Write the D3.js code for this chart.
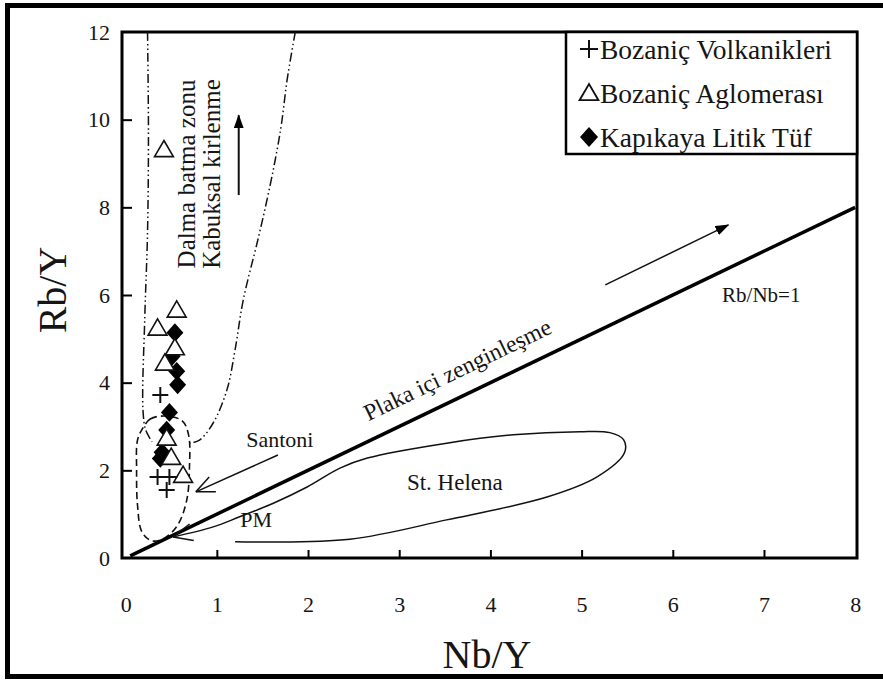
<!DOCTYPE html>
<html>
<head>
<meta charset="utf-8">
<script src="https://cdnjs.cloudflare.com/ajax/libs/d3/7.8.5/d3.min.js"></script>
<style>
  body { margin: 0; background: #fff; }
  svg text { font-family: "Liberation Serif", "Times New Roman", serif; fill: #151515; }
</style>
</head>
<body>
<svg id="chart" width="883" height="680"></svg>
<script>
// axis ticks
const xTicks = [0, 1, 2, 3, 4, 5, 6, 7, 8];
const yTicks = [0, 2, 4, 6, 8, 10, 12];

// samples [Nb/Y, Rb/Y]
const volkanikleri = [[0.38, 3.72], [0.35, 1.85], [0.48, 1.85], [0.45, 1.55]];
const aglomerasi = [[0.42, 9.32], [0.56, 5.66], [0.35, 5.25], [0.54, 4.80], [0.43, 4.45],
                    [0.45, 2.74], [0.50, 2.30], [0.63, 1.89]];
const litikTuf = [[0.54, 5.14], [0.51, 4.60], [0.56, 4.26], [0.57, 3.95], [0.48, 3.32],
                  [0.45, 2.92], [0.40, 2.41], [0.38, 2.27]];

const legendNames = ["Bozaniç Volkanikleri", "Bozaniç Aglomerası", "Kapıkaya Litik Tüf"];

// field outlines
const dalmaLeft = [[0.24, 12], [0.25, 9.7], [0.24, 7.42], [0.21, 5.5], [0.19, 3.38], [0.22, 2.92], [0.29, 2.65]];
const dalmaRight = [[1.86, 12], [1.77, 10.9], [1.71, 9.92], [1.64, 9.08], [1.55, 8.17], [1.45, 7.26],
                    [1.29, 5.89], [1.20, 4.75], [1.11, 3.83], [0.96, 3.08], [0.81, 2.69], [0.70, 2.62]];
const santoniLoop = [[0.19, 2.97], [0.27, 3.17], [0.43, 3.24], [0.62, 3.13], [0.69, 2.81], [0.70, 2.08],
                     [0.67, 1.32], [0.57, 0.75], [0.43, 0.46], [0.29, 0.39], [0.18, 0.59], [0.13, 1.21],
                     [0.12, 2.01], [0.13, 2.69]];
const stHelena = [[1.20, 0.37], [2.46, 0.43], [3.52, 0.87], [4.62, 1.39], [5.17, 1.85], [5.47, 2.40],
                  [5.46, 2.70], [5.31, 2.86], [4.98, 2.88], [4.25, 2.81], [3.52, 2.62], [2.65, 2.28],
                  [2.35, 2.05], [1.99, 1.62], [1.62, 1.25], [1.25, 0.94], [0.96, 0.71], [0.52, 0.48]];
const rbNbLine = [[0.05, 0.05], [8, 8]];
const santoniArrow = [[1.67, 2.35], [0.77, 1.51]];
const plakaArrow = [[5.26, 6.23], [6.61, 7.60]];
const kabuksalArrow = [[1.24, 8.28], [1.24, 10.1]];

const svg = d3.select("#chart");
const x = d3.scaleLinear().domain([-0.04, 8.02]).range([122, 857]);
const y = d3.scaleLinear().domain([0, 12]).range([558, 32]);

// outer border, cropped on the right side like the original
svg.append("rect").attr("x", 7.5).attr("y", 5.5).attr("width", 920).attr("height", 671)
    .attr("fill", "none").attr("stroke", "#000").attr("stroke-width", 5);

const defs = svg.append("defs");
defs.append("marker").attr("id", "head").attr("viewBox", "0 0 14 10")
    .attr("refX", 13).attr("refY", 5).attr("markerWidth", 14).attr("markerHeight", 10)
    .attr("markerUnits", "userSpaceOnUse").attr("orient", "auto")
    .append("path").attr("d", "M0,0L14,5L0,10Z").attr("fill", "#000");

// axes
const xAxis = svg.append("g").attr("transform", "translate(0,558)")
    .call(d3.axisBottom(x).tickValues(xTicks).tickSize(-8).tickPadding(38).tickFormat(d3.format("d")));
const yAxis = svg.append("g").attr("transform", "translate(122,0)")
    .call(d3.axisLeft(y).tickValues(yTicks).tickSize(-10).tickPadding(12).tickFormat(d3.format("d")));
[xAxis, yAxis].forEach(a => {
    a.select(".domain").remove();
    a.selectAll("line").attr("stroke", "#000").attr("stroke-width", 2);
    a.selectAll("text").style("font-size", "22px").attr("fill", "#151515");
});
xAxis.selectAll(".tick").filter(d => d === 0 || d === 8).select("line").remove();
yAxis.selectAll(".tick").filter(d => d === 0 || d === 12).select("line").remove();

svg.append("rect").attr("x", 122).attr("y", 32).attr("width", 735).attr("height", 526)
    .attr("fill", "none").attr("stroke", "#000").attr("stroke-width", 3);

svg.append("text").attr("x", 487).attr("y", 668).attr("text-anchor", "middle")
    .style("font-size", "40px").text("Nb/Y");
svg.append("text").attr("transform", "translate(66,290) rotate(-90)").attr("text-anchor", "middle")
    .style("font-size", "40px").text("Rb/Y");

// field boundaries
const smooth = d3.line().x(d => x(d[0])).y(d => y(d[1])).curve(d3.curveCatmullRom.alpha(0.5));
const loop = d3.line().x(d => x(d[0])).y(d => y(d[1])).curve(d3.curveCatmullRomClosed.alpha(0.5));
const straight = d3.line().x(d => x(d[0])).y(d => y(d[1]));

const fields = svg.append("g").attr("fill", "none").attr("stroke", "#111");
[dalmaLeft, dalmaRight].forEach(c => {
    fields.append("path").attr("d", smooth(c)).attr("stroke-width", 1.5)
        .attr("stroke-dasharray", "9,3,1.5,3,1.5,3");
});
fields.append("path").attr("d", loop(santoniLoop)).attr("stroke-width", 1.6).attr("stroke-dasharray", "7,4");
fields.append("path").attr("d", smooth(stHelena)).attr("stroke-width", 1.5);
fields.append("path").attr("d", straight(rbNbLine)).attr("stroke", "#000").attr("stroke-width", 3.5);
fields.append("path").attr("d", straight(santoniArrow)).attr("stroke-width", 1.5);
fields.append("path").attr("d", straight(plakaArrow)).attr("stroke-width", 1.5).attr("marker-end", "url(#head)");
fields.append("path").attr("d", straight(kabuksalArrow)).attr("stroke-width", 2).attr("marker-end", "url(#head)");

function openHead(pts, len, ang) {
    const a = pts[pts.length - 2], b = pts[pts.length - 1];
    const t = Math.atan2(y(a[1]) - y(b[1]), x(a[0]) - x(b[0]));
    [ang, -ang].forEach(s => {
        fields.append("line").attr("stroke-width", 1.5)
            .attr("x1", x(b[0])).attr("y1", y(b[1]))
            .attr("x2", x(b[0]) + len * Math.cos(t + s)).attr("y2", y(b[1]) + len * Math.sin(t + s));
    });
}
openHead(santoniArrow, 20, 0.42);
openHead(stHelena, 21, 0.42);

// labels
const notes = svg.append("g");
notes.append("text").attr("x", x(1.69)).attr("y", y(2.53)).attr("text-anchor", "middle")
    .style("font-size", "22px").text("Santoni");
notes.append("text").attr("x", x(3.61)).attr("y", y(1.55)).attr("text-anchor", "middle")
    .style("font-size", "23px").text("St. Helena");
notes.append("text").attr("x", x(1.43)).attr("y", y(0.71)).attr("text-anchor", "middle")
    .style("font-size", "22px").text("PM");
notes.append("text").attr("x", x(6.97)).attr("y", y(5.84)).attr("text-anchor", "middle")
    .style("font-size", "21px").text("Rb/Nb=1");
notes.append("text").attr("transform", `translate(${x(0.76)},${y(8.76)}) rotate(-90)`)
    .attr("text-anchor", "middle").style("font-size", "25px").text("Dalma batma zonu");
notes.append("text").attr("transform", `translate(${x(1.04)},${y(8.76)}) rotate(-90)`)
    .attr("text-anchor", "middle").style("font-size", "25px").text("Kabuksal kirlenme");

const theta = Math.atan2(y(0) - y(8), x(8) - x(0));
const px = x(3.76) - 18 * Math.sin(theta), py = y(3.76) - 18 * Math.cos(theta);
notes.append("text").attr("transform", `translate(${px},${py}) rotate(${-theta * 180 / Math.PI})`)
    .attr("text-anchor", "middle").style("font-size", "23.5px").text("Plaka içi zenginleşme");

// symbols
const symPath = {
    plus: s => `M${-s},0H${s}M0,${-s}V${s}`,
    tri: s => `M0,${-s}L${s * 1.05},${s * 0.8}L${-s * 1.05},${s * 0.8}Z`,
    dia: s => `M0,${-s * 1.1}L${s},0L0,${s * 1.1}L${-s},0Z`
};
const pts = svg.append("g");
pts.selectAll(".dia").data(litikTuf).join("path").attr("class", "dia")
    .attr("transform", d => `translate(${x(d[0])},${y(d[1])})`)
    .attr("d", symPath.dia(8.5)).attr("fill", "#000");
pts.selectAll(".tri").data(aglomerasi).join("path").attr("class", "tri")
    .attr("transform", d => `translate(${x(d[0])},${y(d[1])})`)
    .attr("d", symPath.tri(9)).attr("fill", "#fff").attr("stroke", "#111").attr("stroke-width", 1.6);
pts.selectAll(".plus").data(volkanikleri).join("path").attr("class", "plus")
    .attr("transform", d => `translate(${x(d[0])},${y(d[1])})`)
    .attr("d", symPath.plus(8)).attr("fill", "none").attr("stroke", "#111").attr("stroke-width", 2);

// legend
const lg = svg.append("g");
lg.append("rect").attr("x", 566).attr("y", 32).attr("width", 291).attr("height", 122)
    .attr("fill", "#fff").attr("stroke", "#000").attr("stroke-width", 2.5);
const legendSym = [
    {d: symPath.plus(9), fill: "none", sw: 2},
    {d: symPath.tri(9), fill: "none", sw: 1.8},
    {d: symPath.dia(9), fill: "#000", sw: 0}
];
legendNames.forEach((name, i) => {
    const cy = 49 + i * 44;
    lg.append("path").attr("transform", `translate(589,${cy})`).attr("d", legendSym[i].d)
        .attr("fill", legendSym[i].fill).attr("stroke", "#111").attr("stroke-width", legendSym[i].sw);
    lg.append("text").attr("x", 600).attr("y", cy + 10).style("font-size", "27.5px").text(name);
});
</script>
</body>
</html>
